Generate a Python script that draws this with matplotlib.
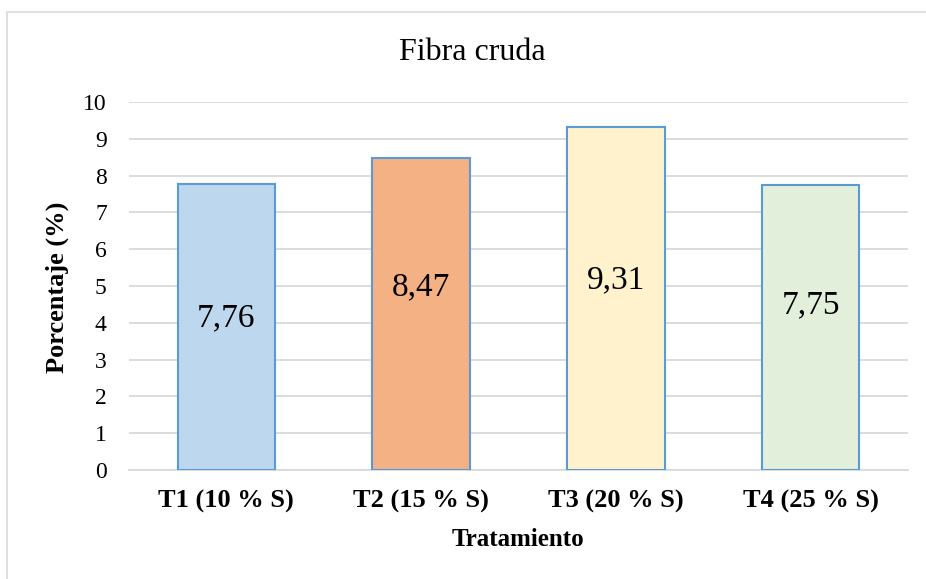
import matplotlib
matplotlib.use('Agg')

import matplotlib.pyplot as plt
from matplotlib.patches import Rectangle

categorias = ['T1 (10 % S)', 'T2 (15 % S)', 'T3 (20 % S)', 'T4 (25 % S)']
valores = [7.76, 8.47, 9.31, 7.75]
etiquetas = ['7,76', '8,47', '9,31', '7,75']
colores = ['#BDD7EE', '#F4B183', '#FFF2CC', '#E2EFDA']
# altura a la que va cada rotulo dentro de su barra
alto_rotulo = [4.13, 4.97, 5.16, 4.48]

plt.rcParams['font.family'] = ['Liberation Serif', 'DejaVu Serif']
GRIS = '#d9d9d9'

fig = plt.figure(figsize=(9.26, 5.79), dpi=100)
ax = fig.add_axes([0.1393, 0.1883, 0.8413, 0.6355])

# marco del area del grafico
fig.patches.append(Rectangle((7/926, -0.1), 1.2, 0.979 + 0.1, transform=fig.transFigure,
                             fill=False, edgecolor=GRIS, lw=1.2))

x = range(len(categorias))
ax.bar(x, valores, width=0.5, color=colores, edgecolor='#5B9BD5', lw=1.5, zorder=3)
for i in x:
    ax.text(i, alto_rotulo[i], etiquetas[i], ha='center', va='center', fontsize=24, zorder=4)

ax.set_xlim(-0.5, len(categorias) - 0.5)
ax.set_ylim(0, 10)
ax.set_yticks(range(0, 11))
ax.set_xticks(list(x))
ax.set_xticklabels(categorias, fontsize=19, fontweight='bold')
ax.tick_params(axis='y', labelsize=17, length=0, pad=16)
ax.tick_params(axis='x', length=0, pad=14)

ax.grid(axis='y', color=GRIS, lw=1.3, zorder=0)
for s in ['top', 'right', 'left']:
    ax.spines[s].set_visible(False)
ax.spines['bottom'].set_color(GRIS)
ax.spines['bottom'].set_linewidth(1.3)

fig.text(472/926, 1 - 52/579, 'Fibra cruda', ha='center', va='center', fontsize=23)
fig.text(518/926, 1 - 540/579, 'Tratamiento', ha='center', va='center',
         fontsize=18, fontweight='bold')
fig.text(57/926, 1 - 287/579, 'Porcentaje (%)', ha='center', va='center',
         rotation=90, fontsize=19, fontweight='bold')

fig.savefig('out.png', dpi=100)
